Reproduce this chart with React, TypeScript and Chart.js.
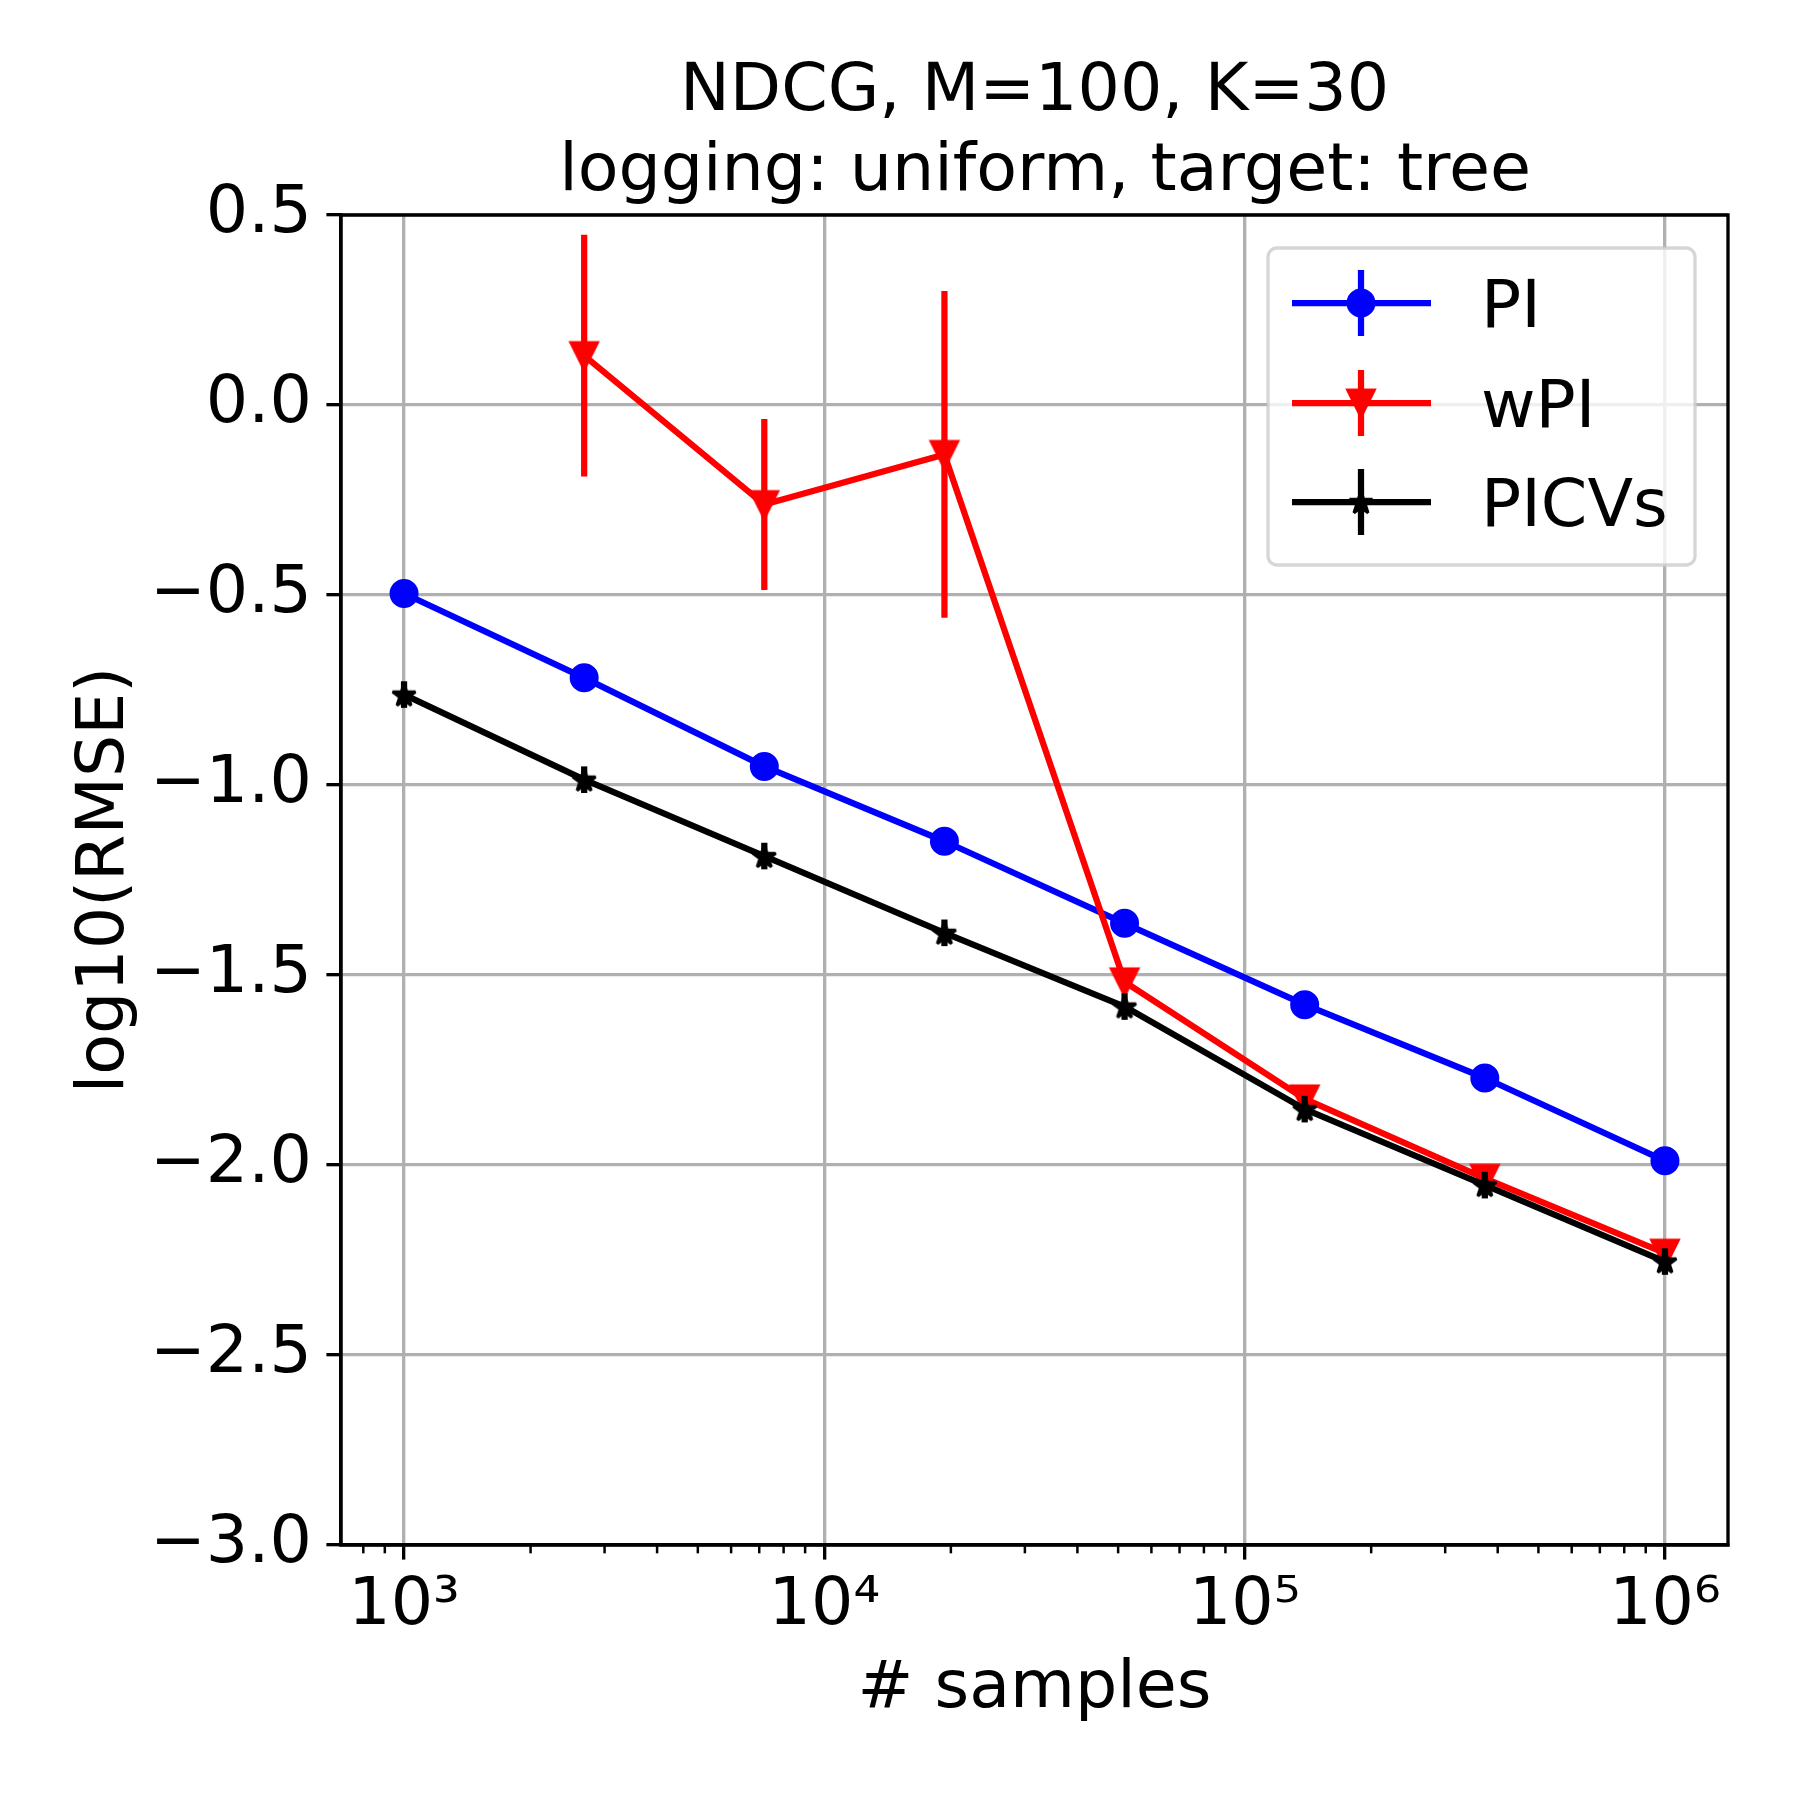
import React, { useEffect, useRef } from 'react';
import { Chart, registerables } from 'chart.js';

Chart.register(...registerables);

// ---------------- data ----------------
const SAMPLES = [1000, 2682.7, 7196.9, 19306.98, 51794.75, 138949.55, 372759.37, 1000000];

const PI_VALUES = [-0.496, -0.718, -0.951, -1.148, -1.364, -1.578, -1.771, -1.989];
const PI_ERRORS = [0.02, 0.02, 0.02, 0.02, 0.02, 0.02, 0.02, 0.02];

const WPI_VALUES = [null, 0.13, -0.262, -0.13, -1.518, -1.826, -2.035, -2.232];
const WPI_ERRORS = [null, 0.318, 0.225, 0.43, 0.02, 0.02, 0.02, 0.02];

const PICVS_VALUES = [-0.762, -0.986, -1.187, -1.389, -1.583, -1.853, -2.053, -2.254];
const PICVS_ERRORS = [0.035, 0.035, 0.035, 0.035, 0.035, 0.035, 0.035, 0.035];

const SERIES_LABELS = ['PI', 'wPI', 'PICVs'];
const SERIES_COLORS = ['#0000ff', '#ff0000', '#000000'];

const X_TICKS = [1e3, 1e4, 1e5, 1e6];
const X_TICK_LABELS = ['10³', '10⁴', '10⁵', '10⁶'];
const X_MIN = Math.pow(10, 2.85);
const X_MAX = Math.pow(10, 6.15);
const Y_MIN = -3.0;
const Y_MAX = 0.5;
const Y_STEP = 0.5;

const TITLE_LINES = ['NDCG, M=100, K=30', ' logging: uniform, target: tree'];
const X_TITLE = '# samples';
const Y_TITLE = 'log10(RMSE)';

// ---------------- styling ----------------
const FONT_FAMILY = "'DejaVu Sans', sans-serif";
const FONT_SIZE = 66.67;
const LINE_W = 6.25;
const AXIS_W = 3.33;
const GRID_COLOR = '#b0b0b0';

function makeTriangle(color: string): HTMLCanvasElement {
  const c = document.createElement('canvas');
  c.width = 42;
  c.height = 42;
  const ctx = c.getContext('2d')!;
  const m = 21;
  const h = 12.5;
  ctx.beginPath();
  ctx.moveTo(m, m + h);
  ctx.lineTo(m - h, m - h);
  ctx.lineTo(m + h, m - h);
  ctx.closePath();
  ctx.fillStyle = color;
  ctx.fill();
  ctx.lineWidth = 4;
  ctx.lineJoin = 'miter';
  ctx.strokeStyle = color;
  ctx.stroke();
  return c;
}

function makeStar(color: string): HTMLCanvasElement {
  const c = document.createElement('canvas');
  c.width = 38;
  c.height = 38;
  const ctx = c.getContext('2d')!;
  const m = 19;
  const R = 12;
  const r = R * 0.381966;
  ctx.beginPath();
  for (let i = 0; i < 10; i++) {
    const rad = i % 2 === 0 ? R : r;
    const ang = -Math.PI / 2 + (i * Math.PI) / 5;
    const px = m + rad * Math.cos(ang);
    const py = m + 1 + rad * Math.sin(ang);
    if (i === 0) ctx.moveTo(px, py);
    else ctx.lineTo(px, py);
  }
  ctx.closePath();
  ctx.fillStyle = color;
  ctx.fill();
  ctx.lineWidth = 3;
  ctx.lineJoin = 'miter';
  ctx.miterLimit = 2.5;
  ctx.strokeStyle = color;
  ctx.stroke();
  return c;
}

const errorBarPlugin = {
  id: 'errorBars',
  afterDatasetDraw(chart: any, args: any) {
    const ds = chart.data.datasets[args.index];
    const errs = ds.errors;
    if (!errs) return;
    const xs = chart.scales.x;
    const ys = chart.scales.y;
    const a = chart.chartArea;
    const ctx = chart.ctx;
    ctx.save();
    ctx.beginPath();
    ctx.rect(a.left, a.top, a.right - a.left, a.bottom - a.top);
    ctx.clip();
    ctx.strokeStyle = ds.borderColor;
    ctx.lineWidth = ds.borderWidth;
    ctx.lineCap = 'butt';
    ds.data.forEach((p: any, i: number) => {
      if (p.y == null || errs[i] == null) return;
      const px = xs.getPixelForValue(p.x);
      ctx.beginPath();
      ctx.moveTo(px, ys.getPixelForValue(p.y + errs[i]));
      ctx.lineTo(px, ys.getPixelForValue(p.y - errs[i]));
      ctx.stroke();
    });
    ctx.restore();
  },
};

const framePlugin = {
  id: 'frameAndMinorTicks',
  afterDatasetsDraw(chart: any) {
    const ctx = chart.ctx;
    const a = chart.chartArea;
    const xs = chart.scales.x;
    ctx.save();
    // minor ticks on log x axis
    ctx.strokeStyle = '#000';
    ctx.lineWidth = 2.5;
    for (let e = 2; e <= 6; e++) {
      for (let k = 2; k <= 9; k++) {
        const v = k * Math.pow(10, e);
        if (v < X_MIN || v > X_MAX) continue;
        const px = xs.getPixelForValue(v);
        ctx.beginPath();
        ctx.moveTo(px, a.bottom);
        ctx.lineTo(px, a.bottom + 8.33);
        ctx.stroke();
      }
    }
    // full frame
    ctx.lineWidth = AXIS_W;
    ctx.strokeStyle = '#000';
    ctx.lineCap = 'square';
    ctx.beginPath();
    ctx.moveTo(a.left, a.top);
    ctx.lineTo(a.right, a.top);
    ctx.lineTo(a.right, a.bottom);
    ctx.lineTo(a.left, a.bottom);
    ctx.closePath();
    ctx.stroke();
    ctx.restore();
  },
};

const legendPlugin = {
  id: 'boxLegend',
  afterDraw(chart: any) {
    const ctx = chart.ctx;
    const a = chart.chartArea;
    const w = 427;
    const h = 317;
    const left = a.right - 33 - w;
    const top = a.top + 33;
    ctx.save();
    ctx.beginPath();
    (ctx as any).roundRect(left, top, w, h, 9);
    ctx.fillStyle = 'rgba(255,255,255,0.8)';
    ctx.fill();
    ctx.lineWidth = 3.3;
    ctx.strokeStyle = 'rgba(204,204,204,0.8)';
    ctx.stroke();
    const rows = [55, 155, 254];
    const byIndex = chart.data.datasets;
    byIndex.forEach((ds: any, i: number) => {
      const cy = top + rows[i];
      const cx = left + 93;
      ctx.strokeStyle = ds.borderColor;
      ctx.lineWidth = LINE_W;
      ctx.lineCap = 'butt';
      ctx.beginPath();
      ctx.moveTo(left + 24, cy);
      ctx.lineTo(left + 163, cy);
      ctx.stroke();
      ctx.beginPath();
      ctx.moveTo(cx, cy - 33);
      ctx.lineTo(cx, cy + 33);
      ctx.stroke();
      const st = ds.pointStyle;
      if (st === 'circle') {
        ctx.beginPath();
        ctx.arc(cx, cy, ds.pointRadius, 0, Math.PI * 2);
        ctx.fillStyle = ds.borderColor;
        ctx.fill();
        ctx.lineWidth = ds.pointBorderWidth;
        ctx.stroke();
      } else if (st && st.width) {
        ctx.drawImage(st, cx - st.width / 2, cy - st.height / 2);
      }
      ctx.fillStyle = '#000';
      ctx.font = `${FONT_SIZE}px ${FONT_FAMILY}`;
      ctx.textAlign = 'left';
      ctx.textBaseline = 'alphabetic';
      ctx.fillText(ds.label, left + 213, cy + 24);
    });
    ctx.restore();
  },
};

export default function App() {
  const ref = useRef<HTMLCanvasElement | null>(null);

  useEffect(() => {
    const canvas = ref.current;
    if (!canvas) return;
    const tri = makeTriangle(SERIES_COLORS[1]);
    const star = makeStar(SERIES_COLORS[2]);

    const font = { family: FONT_FAMILY, size: FONT_SIZE, lineHeight: 1.2, weight: 'normal' as const };

    const mk = (vals: (number | null)[]) => SAMPLES.map((x, i) => ({ x, y: vals[i] }));

    const chart = new Chart(canvas, {
      type: 'line',
      data: {
        datasets: [
          {
            label: SERIES_LABELS[0],
            data: mk(PI_VALUES),
            errors: PI_ERRORS,
            borderColor: SERIES_COLORS[0],
            backgroundColor: SERIES_COLORS[0],
            borderWidth: LINE_W,
            pointStyle: 'circle',
            pointRadius: 12.5,
            pointBorderWidth: 4,
            pointBackgroundColor: SERIES_COLORS[0],
            pointBorderColor: SERIES_COLORS[0],
            order: 2,
          } as any,
          {
            label: SERIES_LABELS[1],
            data: mk(WPI_VALUES),
            errors: WPI_ERRORS,
            borderColor: SERIES_COLORS[1],
            backgroundColor: SERIES_COLORS[1],
            borderWidth: LINE_W,
            pointStyle: tri,
            pointRadius: 12.5,
            order: 1,
          } as any,
          {
            label: SERIES_LABELS[2],
            data: mk(PICVS_VALUES),
            errors: PICVS_ERRORS,
            borderColor: SERIES_COLORS[2],
            backgroundColor: SERIES_COLORS[2],
            borderWidth: LINE_W,
            pointStyle: star,
            pointRadius: 12,
            order: 0,
          } as any,
        ],
      },
      options: {
        responsive: false,
        devicePixelRatio: 1,
        animation: false,
        events: [],
        spanGaps: false,
        layout: { padding: { left: 0, right: 72, top: 0, bottom: 0 } },
        elements: { line: { tension: 0, borderJoinStyle: 'round', borderCapStyle: 'round' } },
        plugins: {
          legend: { display: false },
          tooltip: { enabled: false },
          title: {
            display: true,
            fullSize: false,
            text: TITLE_LINES,
            color: '#000',
            font: { family: FONT_FAMILY, size: FONT_SIZE, lineHeight: 1.2, weight: 'normal' },
            padding: { top: 53, bottom: 2 },
          },
        },
        scales: {
          x: {
            type: 'logarithmic',
            min: X_MIN,
            max: X_MAX,
            afterBuildTicks: (s: any) => {
              s.ticks = X_TICKS.map((v) => ({ value: v, major: true }));
            },
            afterFit: (s: any) => {
              s.height = 255;
              s.paddingLeft = 0;
              s.paddingRight = 0;
            },
            ticks: {
              autoSkip: false,
              maxRotation: 0,
              minRotation: 0,
              color: '#000',
              font,
              padding: 7,
              callback: (v: any) => {
                const i = X_TICKS.indexOf(Number(v));
                return i >= 0 ? X_TICK_LABELS[i] : '';
              },
            },
            grid: {
              color: GRID_COLOR,
              lineWidth: AXIS_W,
              tickColor: '#000',
              tickWidth: AXIS_W,
              tickLength: 14.6,
            },
            border: { display: true, color: '#000', width: AXIS_W },
            title: {
              display: true,
              text: X_TITLE,
              color: '#000',
              font,
              padding: { top: 0, bottom: 70 },
            },
          },
          y: {
            type: 'linear',
            min: Y_MIN,
            max: Y_MAX,
            afterFit: (s: any) => {
              s.width = 341;
              s.paddingTop = 0;
              s.paddingBottom = 0;
            },
            ticks: {
              stepSize: Y_STEP,
              color: '#000',
              font,
              padding: 14.6,
              callback: (v: any) => Number(v).toFixed(1).replace('-', '\u2212'),
            },
            grid: {
              color: GRID_COLOR,
              lineWidth: AXIS_W,
              tickColor: '#000',
              tickWidth: AXIS_W,
              tickLength: 14.6,
            },
            border: { display: true, color: '#000', width: AXIS_W },
            title: {
              display: true,
              text: Y_TITLE,
              color: '#000',
              font,
              padding: { top: 66, bottom: 0 },
            },
          },
        },
      } as any,
      plugins: [errorBarPlugin, framePlugin, legendPlugin],
    });

    return () => chart.destroy();
  }, []);

  return (
    <div style={{ position: 'absolute', left: 0, top: 0, width: 1800, height: 1800, background: '#fff' }}>
      <canvas ref={ref} width={1800} height={1800} style={{ width: 1800, height: 1800, display: 'block' }} />
    </div>
  );
}
